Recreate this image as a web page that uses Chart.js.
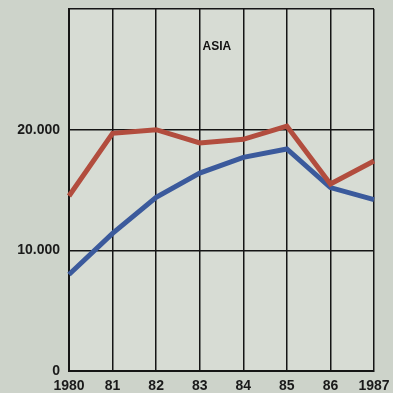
<!DOCTYPE html>
<html>
<head>
<meta charset="utf-8">
<script src="https://cdn.jsdelivr.net/npm/chart.js@4"></script>
<style>
  html, body { margin: 0; padding: 0; background: #cdd3ca; }
  #wrap { width: 393px; height: 393px; }
</style>
</head>
<body>
<div id="wrap"><canvas id="chart" width="393" height="393"></canvas></div>
<script>
// ── Data ─────────────────────────────────────────────────────────────────────
const years      = ['1980', '81', '82', '83', '84', '85', '86', '1987'];
const redSeries  = [14500, 19700, 20000, 18900, 19200, 20300, 15500, 17400];
const blueSeries = [8000, 11400, 14400, 16400, 17700, 18400, 15200, 14200];
const yTickLabels = { 0: '0', 10000: '10.000', 20000: '20.000', 30000: '' };
const chartTitle = 'ASIA';

const axisFont = { family: "'Liberation Sans', Arial, sans-serif", size: 14, weight: 'bold' };

// ── Plugins ──────────────────────────────────────────────────────────────────
const plotBg = {
  id: 'plotBg',
  beforeDraw(chart) {
    const { ctx, chartArea: a } = chart;
    ctx.save();
    ctx.fillStyle = '#d7dcd4';
    ctx.fillRect(a.left, a.top, a.right - a.left, a.bottom - a.top);
    ctx.restore();
  }
};

const innerTitle = {
  id: 'innerTitle',
  afterDatasetsDraw(chart) {
    const { ctx, chartArea: a } = chart;
    ctx.save();
    ctx.fillStyle = '#111';
    ctx.font = "bold 12px 'Liberation Sans', Arial, sans-serif";
    ctx.textAlign = 'center';
    ctx.textBaseline = 'middle';
    ctx.fillText(chartTitle, a.left + (a.right - a.left) * 0.485, a.top + 38);
    ctx.restore();
  }
};

// drop the extra room Chart.js keeps for overhanging tick labels
function noOverhang(scale) {
  scale.paddingTop = 0;
  scale.paddingRight = 0;
  scale.paddingLeft = 0;
  scale.paddingBottom = 0;
}

// ── Chart ────────────────────────────────────────────────────────────────────
new Chart(document.getElementById('chart'), {
  type: 'line',
  data: {
    labels: years,
    datasets: [
      { data: redSeries,  borderColor: '#b24d3e', borderWidth: 5, pointRadius: 0, tension: 0 },
      { data: blueSeries, borderColor: '#3b5a9c', borderWidth: 5, pointRadius: 0, tension: 0 },
    ],
  },
  options: {
    responsive: false,
    animation: false,
    layout: { padding: { top: 9, right: 19, left: 0, bottom: 0 } },
    plugins: { legend: { display: false }, tooltip: { enabled: false } },
    scales: {
      x: {
        offset: false,
        grid: { color: '#151515', lineWidth: 1.5, drawTicks: false },
        border: { color: '#151515', width: 2 },
        ticks: { color: '#1a1a1a', font: axisFont, padding: 7, maxRotation: 0, autoSkip: false },
        afterFit(scale) { scale.height = 22; noOverhang(scale); },
      },
      y: {
        min: 0,
        max: 30000,
        grid: { color: '#151515', lineWidth: 1.5, drawTicks: false },
        border: { color: '#151515', width: 2 },
        ticks: {
          stepSize: 10000,
          color: '#1a1a1a',
          font: axisFont,
          padding: 9,
          callback: v => yTickLabels[v] ?? '',
        },
        afterFit(scale) { scale.width = 69; noOverhang(scale); },
      },
    },
  },
  plugins: [plotBg, innerTitle],
});
</script>
</body>
</html>
